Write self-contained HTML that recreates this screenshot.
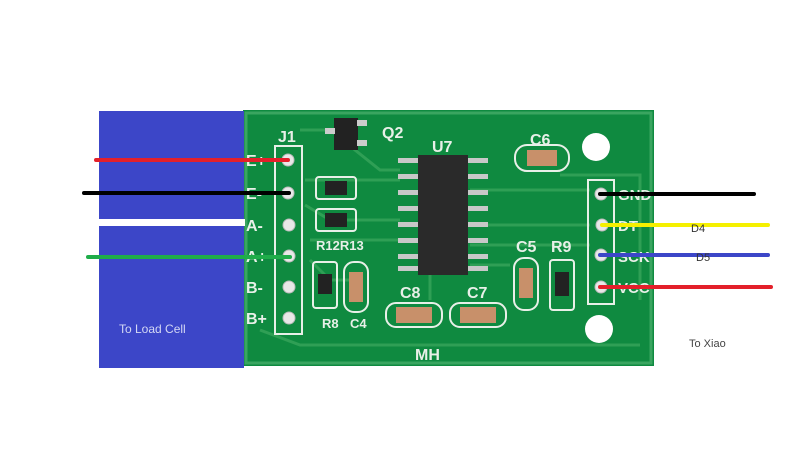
<!DOCTYPE html>
<html><head><meta charset="utf-8"><style>
html,body{margin:0;padding:0;background:#fff;}
svg{display:block;}
text{font-family:"Liberation Sans",sans-serif;}
</style></head><body>
<svg width="801" height="474" viewBox="0 0 801 474" xmlns="http://www.w3.org/2000/svg">
<rect width="801" height="474" fill="#fff"/>
<!-- board -->
<rect x="243" y="110" width="411" height="256" fill="#0f8a40"/>
<rect x="246" y="113" width="405" height="250" fill="none" stroke="#3aa560" stroke-width="3"/>
<!-- traces -->
<g stroke="#2f9f55" stroke-width="3" fill="none">
<path d="M300 130 H330 L380 170 H400"/>
<path d="M305 180 H400"/><path d="M305 205 L330 220 H400"/>
<path d="M310 240 H400"/><path d="M310 260 L330 280 H350"/>
<path d="M470 190 H590"/><path d="M470 225 H590"/><path d="M470 245 H590"/>
<path d="M260 330 L300 345 H640"/><path d="M560 175 H640 V300"/>
<path d="M470 265 H510"/><path d="M430 270 L430 300"/>
</g>
<!-- J1 header -->
<rect x="275" y="146" width="27" height="188" fill="none" stroke="#e8f0e8" stroke-width="2"/>
<g fill="#e8e8e8" stroke="#bbb" stroke-width="1">
<circle cx="288" cy="160" r="6"/><circle cx="288" cy="193" r="6"/><circle cx="289" cy="225" r="6"/>
<circle cx="289" cy="256" r="6"/><circle cx="289" cy="287" r="6"/><circle cx="289" cy="318" r="6"/>
</g>
<g fill="#e8f0e8" font-size="16" font-weight="bold">
<text x="278" y="142">J1</text>
<text x="246" y="166">E+</text><text x="246" y="199">E-</text><text x="246" y="231">A-</text>
<text x="246" y="262">A+</text><text x="246" y="293">B-</text><text x="246" y="324">B+</text>
<text x="382" y="138">Q2</text><text x="432" y="152">U7</text><text x="530" y="145">C6</text>
<text x="316" y="250" font-size="13">R12R13</text>
<text x="516" y="252">C5</text><text x="551" y="252">R9</text>
<text x="400" y="298">C8</text><text x="467" y="298">C7</text>
<text x="322" y="328" font-size="13">R8</text><text x="350" y="328" font-size="13">C4</text>
<text x="415" y="360" font-family="Liberation Serif">MH</text>
</g>
<!-- Q2 -->
<rect x="334" y="118" width="24" height="32" fill="#222"/>
<rect x="325" y="128" width="10" height="6" fill="#ccc"/><rect x="357" y="120" width="10" height="6" fill="#ccc"/><rect x="357" y="140" width="10" height="6" fill="#ccc"/>
<!-- U7 chip -->
<rect x="418" y="155" width="50" height="120" fill="#2a2a2a"/>
<g fill="#c8c8c8">
<rect x="398" y="158" width="20" height="5"/><rect x="398" y="174" width="20" height="5"/><rect x="398" y="190" width="20" height="5"/><rect x="398" y="206" width="20" height="5"/>
<rect x="398" y="222" width="20" height="5"/><rect x="398" y="238" width="20" height="5"/><rect x="398" y="254" width="20" height="5"/><rect x="398" y="266" width="20" height="5"/>
<rect x="468" y="158" width="20" height="5"/><rect x="468" y="174" width="20" height="5"/><rect x="468" y="190" width="20" height="5"/><rect x="468" y="206" width="20" height="5"/>
<rect x="468" y="222" width="20" height="5"/><rect x="468" y="238" width="20" height="5"/><rect x="468" y="254" width="20" height="5"/><rect x="468" y="266" width="20" height="5"/>
</g>
<!-- resistors/caps -->
<g stroke="#e8f0e8" stroke-width="2" fill="none">
<rect x="316" y="177" width="40" height="22" rx="3"/><rect x="316" y="209" width="40" height="22" rx="3"/>
<rect x="313" y="262" width="24" height="46" rx="3"/><rect x="344" y="262" width="24" height="50" rx="10"/>
<rect x="515" y="145" width="54" height="26" rx="12"/>
<rect x="514" y="258" width="24" height="52" rx="10"/><rect x="550" y="260" width="24" height="50" rx="3"/>
<rect x="386" y="303" width="56" height="24" rx="10"/><rect x="450" y="303" width="56" height="24" rx="10"/>
</g>
<g fill="#222"><rect x="325" y="181" width="22" height="14"/><rect x="325" y="213" width="22" height="14"/><rect x="318" y="274" width="14" height="20"/><rect x="555" y="272" width="14" height="24"/></g>
<g fill="#c8906a"><rect x="349" y="272" width="14" height="30"/><rect x="527" y="150" width="30" height="16"/><rect x="519" y="268" width="14" height="30"/><rect x="396" y="307" width="36" height="16"/><rect x="460" y="307" width="36" height="16"/></g>
<!-- right header -->
<rect x="588" y="180" width="26" height="124" fill="none" stroke="#e8f0e8" stroke-width="2"/>
<g fill="#e8e8e8" stroke="#bbb"><circle cx="601" cy="194" r="6"/><circle cx="602" cy="225" r="6"/><circle cx="601" cy="255" r="6"/><circle cx="601" cy="287" r="6"/></g>
<g fill="#e8f0e8" font-size="15" font-weight="bold"><text x="618" y="200">GND</text><text x="618" y="231">DT</text><text x="618" y="262">SCK</text><text x="618" y="293">VCC</text></g>
<circle cx="596" cy="147" r="14" fill="#fff"/><circle cx="599" cy="329" r="14" fill="#fff"/>
<!-- cover white right of board edge -->
<rect x="654" y="100" width="147" height="280" fill="#fff"/>
<!-- blue box -->
<rect x="99" y="111" width="145" height="257" fill="#3c46c8"/>
<rect x="99" y="219" width="146" height="7" fill="#fff"/>
<text x="119" y="333" font-size="12" fill="#d4d8f4">To Load Cell</text>
<!-- wires -->
<g stroke-width="4" stroke-linecap="round">
<line x1="96" y1="160" x2="288" y2="160" stroke="#e3202a"/>
<line x1="84" y1="193" x2="289" y2="193" stroke="#000"/>
<line x1="88" y1="257" x2="290" y2="257" stroke="#1fad4a"/>
<line x1="600" y1="194" x2="754" y2="194" stroke="#000"/>
<line x1="602" y1="225" x2="768" y2="225" stroke="#f5f000"/>
<line x1="600" y1="255" x2="768" y2="255" stroke="#3c46c8"/>
<line x1="600" y1="287" x2="771" y2="287" stroke="#e3202a"/>
</g>
<text x="691" y="232" font-size="11" fill="#333">D4</text>
<text x="696" y="261" font-size="11" fill="#333">D5</text>
<text x="689" y="347" font-size="11" fill="#444">To Xiao</text>
</svg>
</body></html>
